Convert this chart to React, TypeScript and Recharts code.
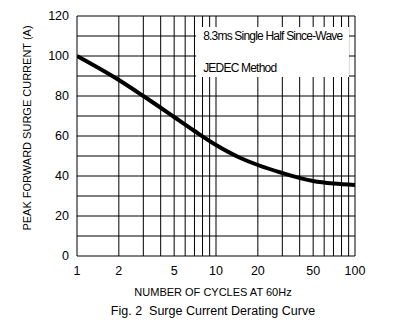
import { CartesianGrid, Label, Line, LineChart, ReferenceArea, XAxis, YAxis } from "recharts"

// curve (cycles at 60Hz -> peak surge amps)
const cycles = [1, 2, 3, 5, 7, 10, 15, 20, 30, 50, 70, 100]
const surgeAmps = [100, 88, 80, 69.5, 62.5, 55.5, 49, 45.5, 41.5, 37.5, 36.2, 35.5]

const xTicks = [1, 2, 5, 10, 20, 50, 100]
const yTicks = [0, 20, 40, 60, 80, 100, 120]
const xGrid = [1, 2, 3, 4, 5, 6, 7, 8, 9, 10, 20, 30, 40, 50, 60, 70, 80, 90, 100]
const yGrid = [0, 10, 20, 30, 40, 50, 60, 70, 80, 90, 100, 110, 120]

const noteLines = ["8.3ms Single Half Since-Wave", "JEDEC Method"]

const data = cycles.map((c, i) => ({ cycles: c, amps: surgeAmps[i] }))

const FONT = "'Liberation Sans', Arial, sans-serif"
const NARROW = "'Liberation Sans Narrow', 'Liberation Sans', Arial, sans-serif"

function NoteText(props: any) {
    const { x, y } = props.viewBox ?? { x: 0, y: 0 }
    return (
        <g fontFamily={NARROW} fontSize={12} fill="#000" letterSpacing={-0.8}>
            <text x={x + 7} y={y + 13}>{noteLines[0]}</text>
            <text x={x + 7} y={y + 45}>{noteLines[1]}</text>
        </g>
    )
}

function YTitle(props: any) {
    const { x, y, height } = props.viewBox ?? { x: 0, y: 0, height: 0 }
    const cx = x + 27
    const cy = y + height / 2 - 8
    return (
        <text x={cx} y={cy} transform={`rotate(-90 ${cx} ${cy})`} textAnchor="middle" dominantBaseline="central"
            fontFamily={FONT} fontSize={11} fill="#000">
            PEAK FORWARD SURGE CURRENT (A)
        </text>
    )
}

function XTitle(props: any) {
    const { x, y, width } = props.viewBox ?? { x: 0, y: 0, width: 0 }
    const cx = x + width / 2 - 3
    return (
        <g fontFamily={FONT} fill="#000" textAnchor="middle">
            <text x={cx} y={y + 40} fontSize={11}>NUMBER OF CYCLES AT 60Hz</text>
            <text x={cx} y={y + 59} fontSize={12.5} xmlSpace="preserve">Fig. 2  Surge Current Derating Curve</text>
        </g>
    )
}

// grid lines at every step, not only at the labelled ticks
// (log x over 1..100, linear y over 0..120, same as the axes)
const verticalGen = ({ xAxis, offset }: any) => {
    if (typeof xAxis?.scale === "function") return xGrid.map((v) => xAxis.scale(v))
    return xGrid.map((v) => offset.left + (Math.log10(v) / 2) * offset.width)
}
const horizontalGen = ({ yAxis, offset }: any) => {
    if (typeof yAxis?.scale === "function") return yGrid.map((v) => yAxis.scale(v))
    return yGrid.map((v) => offset.top + (1 - v / 120) * offset.height)
}

export default function App() {
    return (
        <div style={{ position: "absolute", left: 0, top: 0, width: 399, height: 335, background: "#fff" }}>
            <LineChart width={399} height={335} data={data} margin={{ top: 16, right: 44, left: 0, bottom: 0 }}>
                <CartesianGrid
                    stroke="#000"
                    strokeWidth={1}
                    verticalCoordinatesGenerator={verticalGen}
                    horizontalCoordinatesGenerator={horizontalGen}
                />
                <XAxis
                    dataKey="cycles"
                    type="number"
                    scale="log"
                    domain={[1, 100]}
                    ticks={xTicks}
                    allowDataOverflow
                    height={79}
                    axisLine={false}
                    tickLine={false}
                    tickMargin={4}
                    tick={{ fontSize: 12.5, fill: "#000", fontFamily: NARROW }}
                >
                    <Label content={<XTitle />} />
                </XAxis>
                <YAxis
                    type="number"
                    domain={[0, 120]}
                    ticks={yTicks}
                    width={77}
                    axisLine={false}
                    tickLine={false}
                    tick={{ fontSize: 12.5, fill: "#000", fontFamily: NARROW }}
                >
                    <Label content={<YTitle />} />
                </YAxis>
                <ReferenceArea x1={7.2} x2={90.5} y1={89.5} y2={114.5} fill="#fff" fillOpacity={1} stroke="none"
                    ifOverflow="visible" label={<NoteText />} />
                <Line dataKey="amps" type="monotone" stroke="#000" strokeWidth={4} dot={false} isAnimationActive={false} />
            </LineChart>
        </div>
    )
}
